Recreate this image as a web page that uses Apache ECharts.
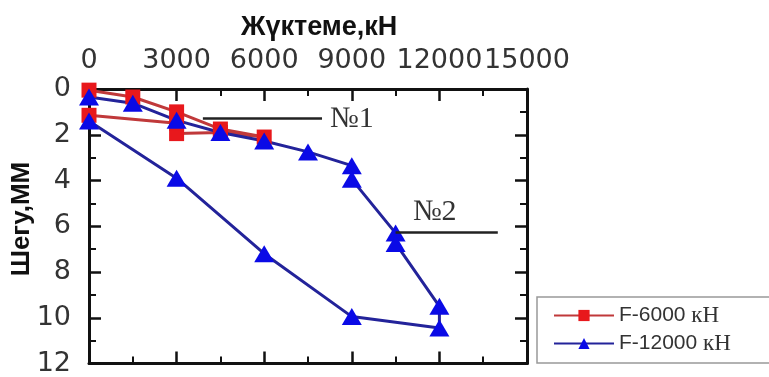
<!DOCTYPE html>
<html>
<head>
<meta charset="utf-8">
<script src="https://cdn.jsdelivr.net/npm/echarts@6/dist/echarts.min.js"></script>
<style>
html,body{margin:0;padding:0;background:#fff;}
#chart{width:769px;height:377px;}
</style>
</head>
<body>
<div id="chart"></div>
<script>
// ---- data ----
const xTitle = 'Жүктеме,кН';
const yTitle = 'Шегу,ММ';
const seriesNames = ['F-6000 кН', 'F-12000 кН'];
const xTickValues = [0, 3000, 6000, 9000, 12000, 15000];
const yTickValues = [0, 2, 4, 6, 8, 10, 12];
// F-6000 (load kN, settlement mm)
const f6000Load   = [0, 1500, 3000, 4500, 6000, 4500, 3000, 3000, 0];
const f6000Settle = [0.05, 0.35, 1.0, 1.75, 2.1, 1.9, 1.95, 1.5, 1.15];
// F-12000
const f12000Load   = [0, 1500, 3000, 4500, 6000, 7500, 9000, 9000, 10500, 10500, 12000, 12000, 9000, 6000, 3000, 0];
const f12000Settle = [0.35, 0.62, 1.37, 1.9, 2.27, 2.75, 3.35, 3.95, 6.3, 6.75, 9.5, 10.45, 9.95, 7.2, 3.9, 1.4];
// annotations
const note1 = {text: '№1', x: [3900, 7980], y: 1.3};
const note2 = {text: '№2', x: [10500, 14000], y: 6.28};

const pairs = (xs, ys) => xs.map((x, i) => [x, ys[i]]);

const chart = echarts.init(document.getElementById('chart'));
const axisLine = {show: true, onZero: false, lineStyle: {color: '#111', width: 3}};
const tickStyle = {show: true, inside: true, length: 12, lineStyle: {color: '#111', width: 2.5}};
const minorStyle = {show: true, splitNumber: 2, length: 7, lineStyle: {color: '#111', width: 2}};
const labelFont = {fontFamily: 'DejaVu Sans', fontSize: 27, color: '#333', formatter: v => String(v)};

const xMin = xTickValues[0], xMax = xTickValues[xTickValues.length - 1];
const xInt = xTickValues[1] - xTickValues[0];
const yMin = yTickValues[0], yMax = yTickValues[yTickValues.length - 1];
const yInt = yTickValues[1] - yTickValues[0];

chart.setOption({
  animation: false,
  backgroundColor: '#fff',
  grid: {left: 89, top: 89, right: 242, bottom: 7, containLabel: false},
  xAxis: [
    {type: 'value', position: 'top', min: xMin, max: xMax, interval: xInt,
     axisLine: axisLine, axisTick: tickStyle, minorTick: minorStyle,
     splitLine: {show: false}, minorSplitLine: {show: false},
     axisLabel: Object.assign({margin: 15}, labelFont)},
    {type: 'value', position: 'bottom', min: xMin, max: xMax, interval: xInt,
     axisLine: axisLine, axisTick: tickStyle, minorTick: minorStyle,
     splitLine: {show: false}, axisLabel: {show: false}}
  ],
  yAxis: [
    {type: 'value', position: 'left', inverse: true, min: yMin, max: yMax, interval: yInt,
     axisLine: axisLine, axisTick: tickStyle, minorTick: minorStyle,
     splitLine: {show: false},
     axisLabel: Object.assign({margin: 18}, labelFont)},
    {type: 'value', position: 'right', inverse: true, min: yMin, max: yMax, interval: yInt,
     axisLine: axisLine, axisTick: tickStyle, minorTick: minorStyle,
     splitLine: {show: false}, axisLabel: {show: false}}
  ],
  legend: {
    orient: 'vertical', left: 537, top: 297,
    padding: [7, 40, 8, 16],
    backgroundColor: '#fff', borderColor: '#999', borderWidth: 1.5, borderRadius: 0,
    itemWidth: 60, itemHeight: 14, itemGap: 5,
    data: seriesNames,
    formatter: function (name) {
      const parts = name.split(' ');
      return '{a|' + parts[0] + ' }{b|' + parts[1] + '}';
    },
    textStyle: {
      color: '#333',
      rich: {
        a: {fontFamily: 'Liberation Sans', fontSize: 21, color: '#333', lineHeight: 22},
        b: {fontFamily: 'Liberation Serif', fontSize: 23, color: '#333', lineHeight: 22}
      }
    }
  },
  graphic: [
    {type: 'text', left: 241, top: 14,
     style: {text: xTitle, font: 'bold 27px "Liberation Sans"', fill: '#111'}},
    {type: 'text', x: 22, y: 219, rotation: Math.PI / 2,
     style: {text: yTitle, font: 'bold 26px "Liberation Sans"', fill: '#111',
             textAlign: 'center', textVerticalAlign: 'middle'}}
  ],
  series: [
    {
      name: seriesNames[0], type: 'line', xAxisIndex: 0, yAxisIndex: 0,
      data: pairs(f6000Load, f6000Settle),
      symbol: 'rect', symbolSize: 15,
      itemStyle: {color: '#e8181c'},
      lineStyle: {color: '#c0393a', width: 3},
      markLine: {
        silent: true, symbol: ['none', 'none'], animation: false,
        lineStyle: {color: '#222', width: 2.5, type: 'solid'},
        label: {show: true, position: 'end', distance: 8, formatter: note1.text,
                fontFamily: 'Liberation Serif', fontSize: 30, color: '#333'},
        data: [[{coord: [note1.x[0], note1.y]}, {coord: [note1.x[1], note1.y]}]]
      }
    },
    {
      name: seriesNames[1], type: 'line', xAxisIndex: 0, yAxisIndex: 0,
      data: pairs(f12000Load, f12000Settle),
      symbol: 'triangle', symbolSize: [20, 17],
      itemStyle: {color: '#0a0ae6'},
      lineStyle: {color: '#23239a', width: 3},
      markLine: {
        silent: true, symbol: ['none', 'none'], animation: false,
        lineStyle: {color: '#222', width: 2.5, type: 'solid'},
        label: {show: true, position: 'middle', distance: 6, formatter: note2.text,
                padding: [0, 24, 0, 0],
                fontFamily: 'Liberation Serif', fontSize: 30, color: '#333'},
        data: [[{coord: [note2.x[0], note2.y]}, {coord: [note2.x[1], note2.y]}]]
      }
    }
  ]
});
</script>
</body>
</html>
